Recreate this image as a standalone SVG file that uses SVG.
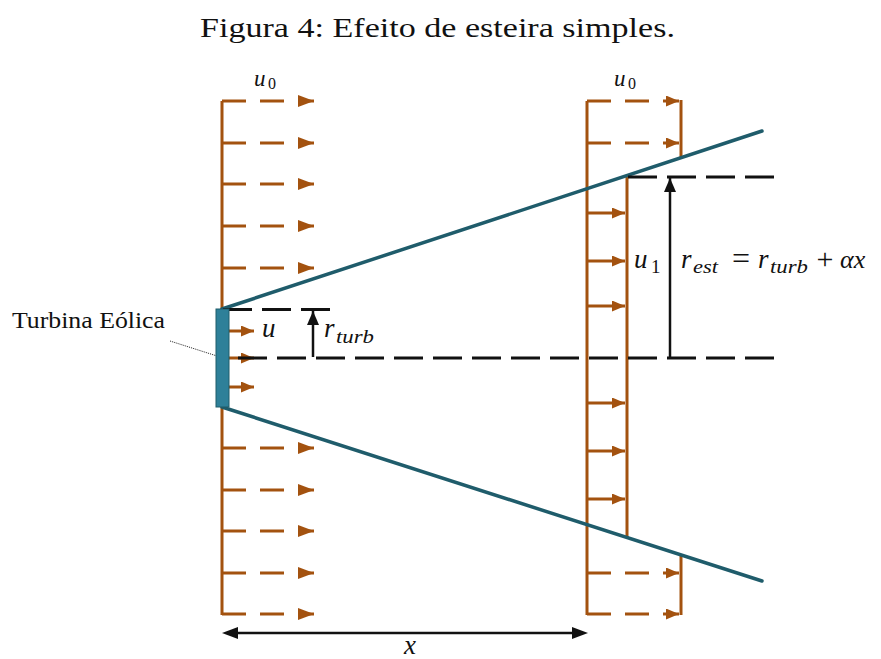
<svg xmlns="http://www.w3.org/2000/svg" width="881" height="659" viewBox="0 0 881 659">
<defs>
<style>
.o{stroke:#A3520F;stroke-width:3;fill:none}
.od{stroke:#A3520F;stroke-width:3;fill:none;stroke-dasharray:24 14}
.k{stroke:#111;stroke-width:3;fill:none;stroke-dasharray:29 10}
.ka{stroke:#111;stroke-width:2.5;fill:none}
.w{stroke:#1F5C6B;stroke-width:3.5;fill:none;stroke-linecap:round}
.m{font-family:"Liberation Serif","DejaVu Serif",serif;font-style:italic;fill:#111}
.n{font-family:"Liberation Serif","DejaVu Serif",serif;fill:#111}
.t{font-family:"Liberation Serif","DejaVu Serif",serif;fill:#111}
</style>
<marker id="ao" viewBox="0 0 16 12" refX="16" refY="6" markerWidth="16" markerHeight="12" markerUnits="userSpaceOnUse" orient="auto"><path d="M0,0 L16,6 L0,12 z" fill="#A3520F"/></marker>
<marker id="aos" viewBox="0 0 13 11" refX="13" refY="5.5" markerWidth="13" markerHeight="11" markerUnits="userSpaceOnUse" orient="auto"><path d="M0,0 L13,5.5 L0,11 z" fill="#A3520F"/></marker>
<marker id="ak" viewBox="0 0 14 12" refX="14" refY="6" markerWidth="14" markerHeight="12" markerUnits="userSpaceOnUse" orient="auto"><path d="M0,0 L14,6 L0,12 z" fill="#111"/></marker>
</defs>
<rect width="881" height="659" fill="#fff"/>
<text class="t" x="437.5" y="37" font-size="28" text-anchor="middle" textLength="475" lengthAdjust="spacingAndGlyphs">Figura 4: Efeito de esteira simples.</text>
<g id="connectors">
<line class="o" x1="222" y1="101" x2="222" y2="615"/>
<line class="od" x1="222" y1="101" x2="314" y2="101" marker-end="url(#ao)"/>
<line class="od" x1="222" y1="143" x2="314" y2="143" marker-end="url(#ao)"/>
<line class="od" x1="222" y1="184" x2="314" y2="184" marker-end="url(#ao)"/>
<line class="od" x1="222" y1="226" x2="314" y2="226" marker-end="url(#ao)"/>
<line class="od" x1="222" y1="268" x2="314" y2="268" marker-end="url(#ao)"/>
<line class="od" x1="222" y1="448" x2="314" y2="448" marker-end="url(#ao)"/>
<line class="od" x1="222" y1="490" x2="314" y2="490" marker-end="url(#ao)"/>
<line class="od" x1="222" y1="531" x2="314" y2="531" marker-end="url(#ao)"/>
<line class="od" x1="222" y1="573" x2="314" y2="573" marker-end="url(#ao)"/>
<line class="od" x1="222" y1="614" x2="314" y2="614" marker-end="url(#ao)"/>
<line class="o" x1="228" y1="331" x2="254" y2="331" marker-end="url(#aos)"/>
<line class="o" x1="228" y1="358" x2="254" y2="358" marker-end="url(#aos)"/>
<line class="o" x1="228" y1="387" x2="254" y2="387" marker-end="url(#aos)"/>
<line class="o" x1="587" y1="101" x2="587" y2="615"/>
<line class="o" x1="681" y1="100" x2="681" y2="158"/>
<line class="o" x1="681" y1="555" x2="681" y2="615"/>
<line class="o" x1="627" y1="176" x2="627" y2="538"/>
<line class="od" x1="587" y1="101" x2="679" y2="101" marker-end="url(#aos)"/>
<line class="od" x1="587" y1="143" x2="679" y2="143" marker-end="url(#aos)"/>
<line class="od" x1="587" y1="573" x2="679" y2="573" marker-end="url(#aos)"/>
<line class="od" x1="587" y1="614" x2="679" y2="614" marker-end="url(#aos)"/>
<line class="o" x1="587" y1="213" x2="625" y2="213" marker-end="url(#aos)"/>
<line class="o" x1="587" y1="261" x2="625" y2="261" marker-end="url(#aos)"/>
<line class="o" x1="587" y1="306" x2="625" y2="306" marker-end="url(#aos)"/>
<line class="o" x1="587" y1="403" x2="625" y2="403" marker-end="url(#aos)"/>
<line class="o" x1="587" y1="451" x2="625" y2="451" marker-end="url(#aos)"/>
<line class="o" x1="587" y1="499" x2="625" y2="499" marker-end="url(#aos)"/>
<line class="w" x1="222" y1="309" x2="762" y2="131"/>
<line class="w" x1="222" y1="407" x2="762" y2="581"/>
<path class="k" d="M223,309.5 L330,309.5"/>
<path class="k" d="M774,358 L229,358"/>
<path class="k" d="M774,177 L628,177"/>
<line class="ka" x1="313" y1="357" x2="313" y2="311" marker-end="url(#ak)"/>
<line class="ka" x1="670" y1="357" x2="670" y2="178" marker-end="url(#ak)"/>
<line class="ka" x1="238" y1="633" x2="572" y2="633"/>
<path d="M222,633 L238,627 L238,639 z" fill="#111"/>
<path d="M588,633 L572,627 L572,639 z" fill="#111"/>
<line x1="170" y1="341" x2="217" y2="356" stroke="#222" stroke-width="1" stroke-dasharray="1 1"/>
</g>
<g id="turbine">
<rect x="216" y="309" width="13" height="98" fill="#2E8099" stroke="#1F5C6B" stroke-width="1"/>
</g>
<g id="labels">
<text class="t" x="12" y="328" font-size="23" textLength="153" lengthAdjust="spacingAndGlyphs">Turbina Eólica</text>
<text class="m" x="254" y="86" font-size="23">u</text><text class="n" x="268" y="89" font-size="16">0</text>
<text class="m" x="614" y="86" font-size="23">u</text><text class="n" x="628" y="89" font-size="16">0</text>
<text class="m" x="262" y="337" font-size="27">u</text>
<text class="m" x="324" y="337" font-size="27">r</text><text class="m" x="336" y="343" font-size="19" textLength="38" lengthAdjust="spacingAndGlyphs">turb</text>
<text class="m" x="634" y="268" font-size="27">u</text><text class="n" x="651" y="273" font-size="19">1</text>
<text class="m" x="681" y="268" font-size="27">r</text><text class="m" x="693" y="273" font-size="19" textLength="25" lengthAdjust="spacingAndGlyphs">est</text>
<text class="n" x="741" y="269" font-size="32" text-anchor="middle">=</text>
<text class="m" x="758" y="268" font-size="27">r</text><text class="m" x="770" y="273" font-size="19" textLength="38" lengthAdjust="spacingAndGlyphs">turb</text>
<text class="n" x="825" y="269" font-size="30" text-anchor="middle">+</text>
<text class="m" x="840" y="268" font-size="26">αx</text>
<text class="m" x="404" y="654" font-size="27">x</text>
</g>
</svg>
